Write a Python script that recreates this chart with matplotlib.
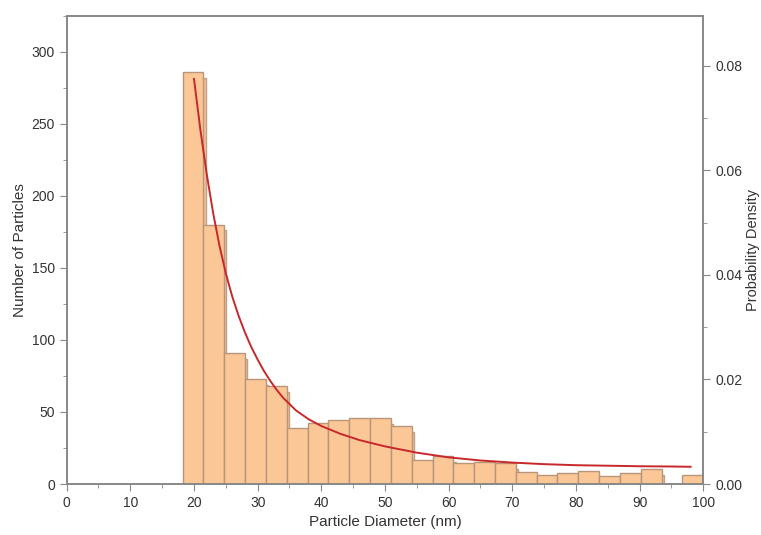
import matplotlib
matplotlib.use("Agg")
import matplotlib.pyplot as plt
import numpy as np
from matplotlib.ticker import MultipleLocator

plt.rcParams['font.family'] = ['Liberation Sans', 'DejaVu Sans']

# Histogram data
bin_start = 18.2
bin_width = 3.272
counts = [286, 180, 91, 73, 68, 39, 42, 44.5, 46, 45.5, 40, 16.5, 19.5, 14.5,
          15.5, 14.5, 8.5, 6.3, 7.4, 9.3, 5.6, 7.4, 10.6, 0, 6.0]

# Fitted probability density curve
fit_x = [20, 21, 22, 23, 24, 25, 26, 27, 28, 29, 30, 31, 32, 33, 34, 36, 38,
         40, 43, 46, 50, 55, 60, 65, 70, 75, 80, 85, 90, 95, 98]
fit_d = [0.0775, 0.0678, 0.0593, 0.0519, 0.0456, 0.0403, 0.0359, 0.0322,
         0.0290, 0.0262, 0.0238, 0.0216, 0.0197, 0.0180, 0.0165, 0.0141,
         0.0124, 0.0111, 0.0096, 0.0084, 0.0072, 0.0060, 0.0051, 0.0045,
         0.0041, 0.0038, 0.0036, 0.0035, 0.0034, 0.00335, 0.0033]

fig = plt.figure(figsize=(7.61, 5.35), dpi=100)
ax = fig.add_axes([0.0876, 0.0953, 0.9242 - 0.0876, 0.9707 - 0.0953])

centers = bin_start + bin_width * (np.arange(len(counts)) + 0.5)
h = np.array(counts, dtype=float)

# shadow bars
ax.bar(centers + 0.35, np.clip(h - 4, 0, None), width=bin_width, color='#F7C08F',
       edgecolor='#C0A088', linewidth=1.0, zorder=1)
ax.bar(centers, h, width=bin_width, color='#FBC797', edgecolor='#B8967A',
       linewidth=1.0, zorder=2)

ax.set_xlim(0, 100)
ax.set_ylim(0, 325)
ax.xaxis.set_major_locator(MultipleLocator(10))
ax.xaxis.set_minor_locator(MultipleLocator(5))
ax.yaxis.set_major_locator(MultipleLocator(50))
ax.yaxis.set_minor_locator(MultipleLocator(25))

txt = '#333333'
spc = '#888888'
for s in ax.spines.values():
    s.set_color(spc)
    s.set_linewidth(1.2)
ax.tick_params(which='both', direction='out', colors=spc, labelcolor=txt,
               labelsize=10, top=False)
ax.tick_params(which='major', length=5)
ax.tick_params(which='minor', length=3)
ax.set_xlabel('Particle Diameter (nm)', fontsize=11, color=txt, labelpad=4)
ax.set_ylabel('Number of Particles', fontsize=11, color=txt, labelpad=3)

ax2 = ax.twinx()
ax2.plot(fit_x, fit_d, color='#C8282A', linewidth=1.4, zorder=3)
ax2.set_ylim(0, 0.0896)
ax2.yaxis.set_major_locator(MultipleLocator(0.02))
ax2.yaxis.set_minor_locator(MultipleLocator(0.01))
ax2.yaxis.set_major_formatter(matplotlib.ticker.FormatStrFormatter('%.2f'))
for s in ax2.spines.values():
    s.set_color(spc)
    s.set_linewidth(1.2)
ax2.tick_params(which='both', direction='out', colors=spc, labelcolor=txt,
                labelsize=10)
ax2.tick_params(which='major', length=5)
ax2.tick_params(which='minor', length=3)
ax2.set_ylabel('Probability Density', fontsize=10.5, color=txt, labelpad=3)

fig.savefig('out.png', dpi=100)
